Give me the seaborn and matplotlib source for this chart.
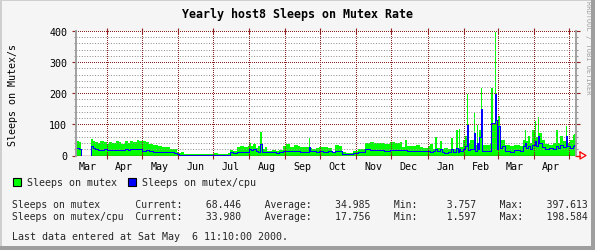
import numpy as np
import pandas as pd
import matplotlib
matplotlib.use("Agg")
import matplotlib.pyplot as plt
import matplotlib.dates as mdates
from matplotlib.ticker import MultipleLocator, NullFormatter
from matplotlib.lines import Line2D
from matplotlib.patches import Rectangle
import seaborn as sns

# ---------------- data ----------------
title = "Yearly host8 Sleeps on Mutex Rate"
y_label = "Sleeps on Mutex/s"
series_names = ["Sleeps on mutex", "Sleeps on mutex/cpu"]
y_ticks = [0, 100, 200, 300, 400]
start_date = "1999-03-05 08:00"
end_date = "2000-05-07 06:00"
last_update = "Sat May  6 11:10:00 2000"

day_offset = [0, 1.7, 3.4, 5.1, 12.9, 14.6, 16.3, 18.9, 21.4, 24.0, 26.6, 29.1, 31.7, 34.3,
              36.9, 39.4, 42.0, 44.6, 47.1, 49.7, 52.3, 54.8, 56.6, 60.0, 63.4, 66.8, 70.3,
              73.7, 77.1, 80.6, 84.0, 86.6, 88.3, 90.8, 93.4, 106.3, 119.1, 121.7, 130.3,
              132.8, 135.4, 138.0, 141.4, 144.8, 147.4, 149.1, 150.8, 152.5, 154.3, 156.0,
              158.5, 159.8, 162.0, 164.5, 168.0, 171.4, 174.8, 177.4, 180.0, 183.4, 186.9,
              190.3, 192.8, 196.3, 199.7, 201.0, 203.1, 205.7, 209.1, 212.5, 216.0, 219.4,
              222.0, 225.4, 228.0, 231.4, 234.8, 238.2, 241.7, 245.1, 248.5, 252.0, 256.2,
              260.5, 264.8, 269.1, 273.4, 277.7, 280.2, 282.8, 284.5, 288.0, 291.4, 294.8,
              298.2, 301.7, 304.2, 306.0, 308.5, 309.8, 312.4, 313.7, 316.2, 318.8, 322.2,
              323.5, 325.7, 327.4, 328.7, 329.9, 331.7, 333.4, 335.1, 336.4, 338.5, 341.1,
              342.4, 343.7, 345.0, 346.2, 347.1, 348.4, 351.4, 354.8, 356.5, 357.8, 359.1,
              360.2, 361.2, 362.5, 363.8, 365.1, 367.7, 372.0, 376.2, 380.5, 383.1, 384.8,
              386.1, 387.4, 389.1, 391.6, 393.4, 394.6, 396.4, 397.6, 399.4, 402.0, 405.4,
              408.8, 412.2, 413.5, 415.6, 418.2, 420.4, 421.6, 424.2, 426.0, 427.3]

mutex = [44, 47, 42, 0, 53, 47, 44, 40, 46, 43, 38, 44, 40, 45,
         42, 38, 45, 41, 48, 44, 49, 45, 45, 42, 38, 33, 30,
         28, 26, 22, 20, 12, 8, 10, 5, 4, 8, 5, 9,
         17, 14, 28, 31, 26, 30, 40, 30, 37, 25, 30,
         76, 20, 26, 15, 18, 14, 18, 30, 36, 28, 34,
         30, 26, 28, 55, 25, 20, 24, 26, 28, 25, 10,
         33, 30, 10, 8, 9, 16, 20, 22, 40, 42, 39,
         41, 38, 42, 40, 43, 28, 51, 32, 30, 33, 28,
         25, 30, 37, 22, 58, 24, 45, 22, 24, 20, 55,
         22, 83, 24, 85, 28, 50, 62, 198, 40, 50, 140,
         35, 99, 40, 83, 218, 35, 33, 38, 216, 104, 397.6,
         115, 45, 128, 50, 51, 35, 30, 35, 32, 50, 83,
         45, 62, 40, 83, 110, 60, 125, 72, 50, 38, 34,
         40, 83, 40, 62, 45, 96, 40, 50, 67, 68.4]

mutex_cpu = [23, 23, 22, 0, 29, 25, 21, 19, 18, 20, 18, 17, 19, 18,
             17, 18, 20, 19, 21, 20, 22, 21, 13, 18, 15, 12, 11,
             10, 10, 10, 9, 4, 3, 2, 2, 1, 2, 1, 3,
             11, 8, 12, 12, 12, 12, 21, 18, 21, 14, 10,
             37, 12, 10, 10, 10, 9, 10, 13, 13, 13, 14,
             13, 10, 11, 28, 13, 14, 12, 13, 12, 13, 12,
             15, 14, 6, 4, 5, 8, 10, 12, 20, 18, 17,
             18, 16, 18, 17, 19, 17, 18, 15, 14, 16, 14,
             14, 15, 12, 14, 20, 14, 22, 12, 8, 10, 20,
             12, 25, 12, 20, 15, 22, 30, 98, 18, 20, 72,
             15, 40, 20, 60, 148, 15, 14, 16, 104, 104, 198.6,
             115, 20, 94, 25, 30, 15, 12, 18, 14, 30, 40,
             25, 30, 20, 35, 45, 30, 62, 40, 28, 22, 24,
             22, 30, 25, 35, 28, 62, 30, 25, 32, 34.0]

current = [68.446, 33.980]
average = [34.985, 17.756]
minimum = [3.757, 1.597]
maximum = [397.613, 198.584]

# ---------------- style ----------------
W, H = 595, 251
DPI = 100
BACK = "#F5F5F5"
GRID = "#8F8F8F"
MGRID = "#8F2020"
GREEN = "#00FF00"
BLUE = "#0000FF"
PX = 72 / DPI  # one pixel in points

sns.set_style("white")
plt.rcParams["font.family"] = ["DejaVu Sans Mono", "DejaVu Sans"]
plt.rcParams["axes.linewidth"] = 1.0

t0 = pd.Timestamp(start_date)
t1 = pd.Timestamp(end_date)
dates = t0 + pd.to_timedelta(day_offset, unit="D")
# extend the last step up to the right edge of the graph
dates_ext = list(dates) + [t1]
mutex_ext = mutex + [mutex[-1]]
cpu_ext = mutex_cpu + [mutex_cpu[-1]]
df = pd.DataFrame({"date": dates_ext, "mutex": mutex_ext, "cpu": cpu_ext})

fig = plt.figure(figsize=(W / DPI, H / DPI), dpi=DPI, facecolor=BACK)

def fx(px):
    return px / W

def fy(py):
    return 1 - py / H

L, R, T, B = 75.5, 576, 32, 156.5
ax = fig.add_axes([fx(L), fy(B), (R - L) / W, (B - T) / H])
ax.set_facecolor("white")

ax.fill_between(df["date"], 0, df["mutex"], step="post", color=GREEN, lw=0,
                zorder=2, antialiased=False)
sns.lineplot(data=df, x="date", y="cpu", drawstyle="steps-post", color=BLUE,
             lw=PX, ax=ax, legend=False, zorder=3, sort=False, antialiased=False)

ax.set_xlim(t0, t1)
ax.set_ylim(0, 400)
ax.set_xlabel("")
ax.set_ylabel("")

# grid
ax.yaxis.set_major_locator(MultipleLocator(100))
ax.yaxis.set_minor_locator(MultipleLocator(20))
ax.set_yticks(y_ticks)
ax.xaxis.set_major_locator(mdates.MonthLocator(bymonthday=1))
ax.xaxis.set_minor_locator(mdates.MonthLocator(bymonthday=16))
ax.xaxis.set_major_formatter(NullFormatter())
ax.xaxis.set_minor_formatter(mdates.DateFormatter("%b"))

ax.grid(False)
ax.yaxis.grid(True, which="minor", color=GRID, lw=PX, ls=":")
ax.yaxis.grid(True, which="major", color=MGRID, lw=PX, ls=":")
ax.xaxis.grid(True, which="major", color=MGRID, lw=PX, ls=":")
ax.set_axisbelow(False)
for gl in ax.get_xgridlines() + ax.get_ygridlines():
    gl.set_zorder(4)
    gl.set_antialiased(False)

# spines
for s in ["top", "bottom"]:
    ax.spines[s].set_visible(False)
for s in ["left", "right"]:
    ax.spines[s].set_color("#A0A0A0")
    ax.spines[s].set_linewidth(1.4)
    ax.spines[s].set_zorder(6)
ax.axhline(0, color=MGRID, lw=1.0, zorder=6)

# ticks
ax.tick_params(axis="y", which="major", direction="out", length=3, width=0.8,
               color=MGRID, left=True, right=True, labelsize=7.2, pad=3, labelcolor="black")
ax.tick_params(axis="y", which="minor", direction="out", length=1.6, width=0.8,
               color=GRID, left=True, right=True)
ax.tick_params(axis="x", which="major", direction="inout", length=5, width=0.8,
               color=MGRID, bottom=True, top=True)
ax.tick_params(axis="x", which="minor", length=0, labelsize=7.2, pad=4, labelcolor="black")

# red arrow at the end of the x axis
fig.add_artist(Line2D([fx(576), fx(580)], [fy(156.5), fy(156.5)], color="red", lw=0.9))
fig.add_artist(Line2D([fx(580), fx(580), fx(586), fx(580)],
                      [fy(153), fy(160), fy(156.5), fy(153)], color="red", lw=0.9))

# texts
fig.text(fx(297.5), fy(15), title, ha="center", va="center", fontsize=8.4,
         fontweight="bold", color="black")
fig.text(fx(13), fy(94.5), y_label, ha="center", va="center", rotation=90,
         fontsize=7.2, color="black")
fig.text(fx(588), fy(48), "RRDTOOL / TOBI OETIKER", ha="center", va="center",
         rotation=270, fontsize=5.0, color="#A0A0A0")

# legend
for x0, col, name in [(13, GREEN, series_names[0]), (128, BLUE, series_names[1])]:
    fig.add_artist(Rectangle((fx(x0), fy(187)), 8 / W, 8 / H, facecolor=col,
                             edgecolor="black", lw=0.8, transform=fig.transFigure))
    fig.text(fx(x0 + 14), fy(183.5), name, ha="left", va="center", fontsize=7.2)

# statistics
for i, name in enumerate(series_names):
    line = (f"{name:<21}Current:{current[i]:10.3f}    Average:{average[i]:10.3f}"
            f"    Min:{minimum[i]:10.3f}    Max:{maximum[i]:11.3f}")
    fig.text(fx(12), fy(204.5 + 13 * i), line, ha="left", va="center", fontsize=7.0)
fig.text(fx(12), fy(237.5), f"Last data entered at {last_update}.", ha="left",
         va="center", fontsize=7.2)

# 3D frame
fig.add_artist(Rectangle((0, fy(2)), 1, 2 / H, facecolor="#CFCFCF", lw=0,
                         transform=fig.transFigure))
fig.add_artist(Rectangle((0, 0), 2 / W, 1, facecolor="#CFCFCF", lw=0,
                         transform=fig.transFigure))
fig.add_artist(Rectangle((fx(591), 0), 4 / W, 1, facecolor="#9E9E9E", lw=0,
                         transform=fig.transFigure))
fig.add_artist(Rectangle((0, 0), 1, 4 / H, facecolor="#9E9E9E", lw=0,
                         transform=fig.transFigure))

fig.savefig("out.png", dpi=DPI, facecolor=BACK)
